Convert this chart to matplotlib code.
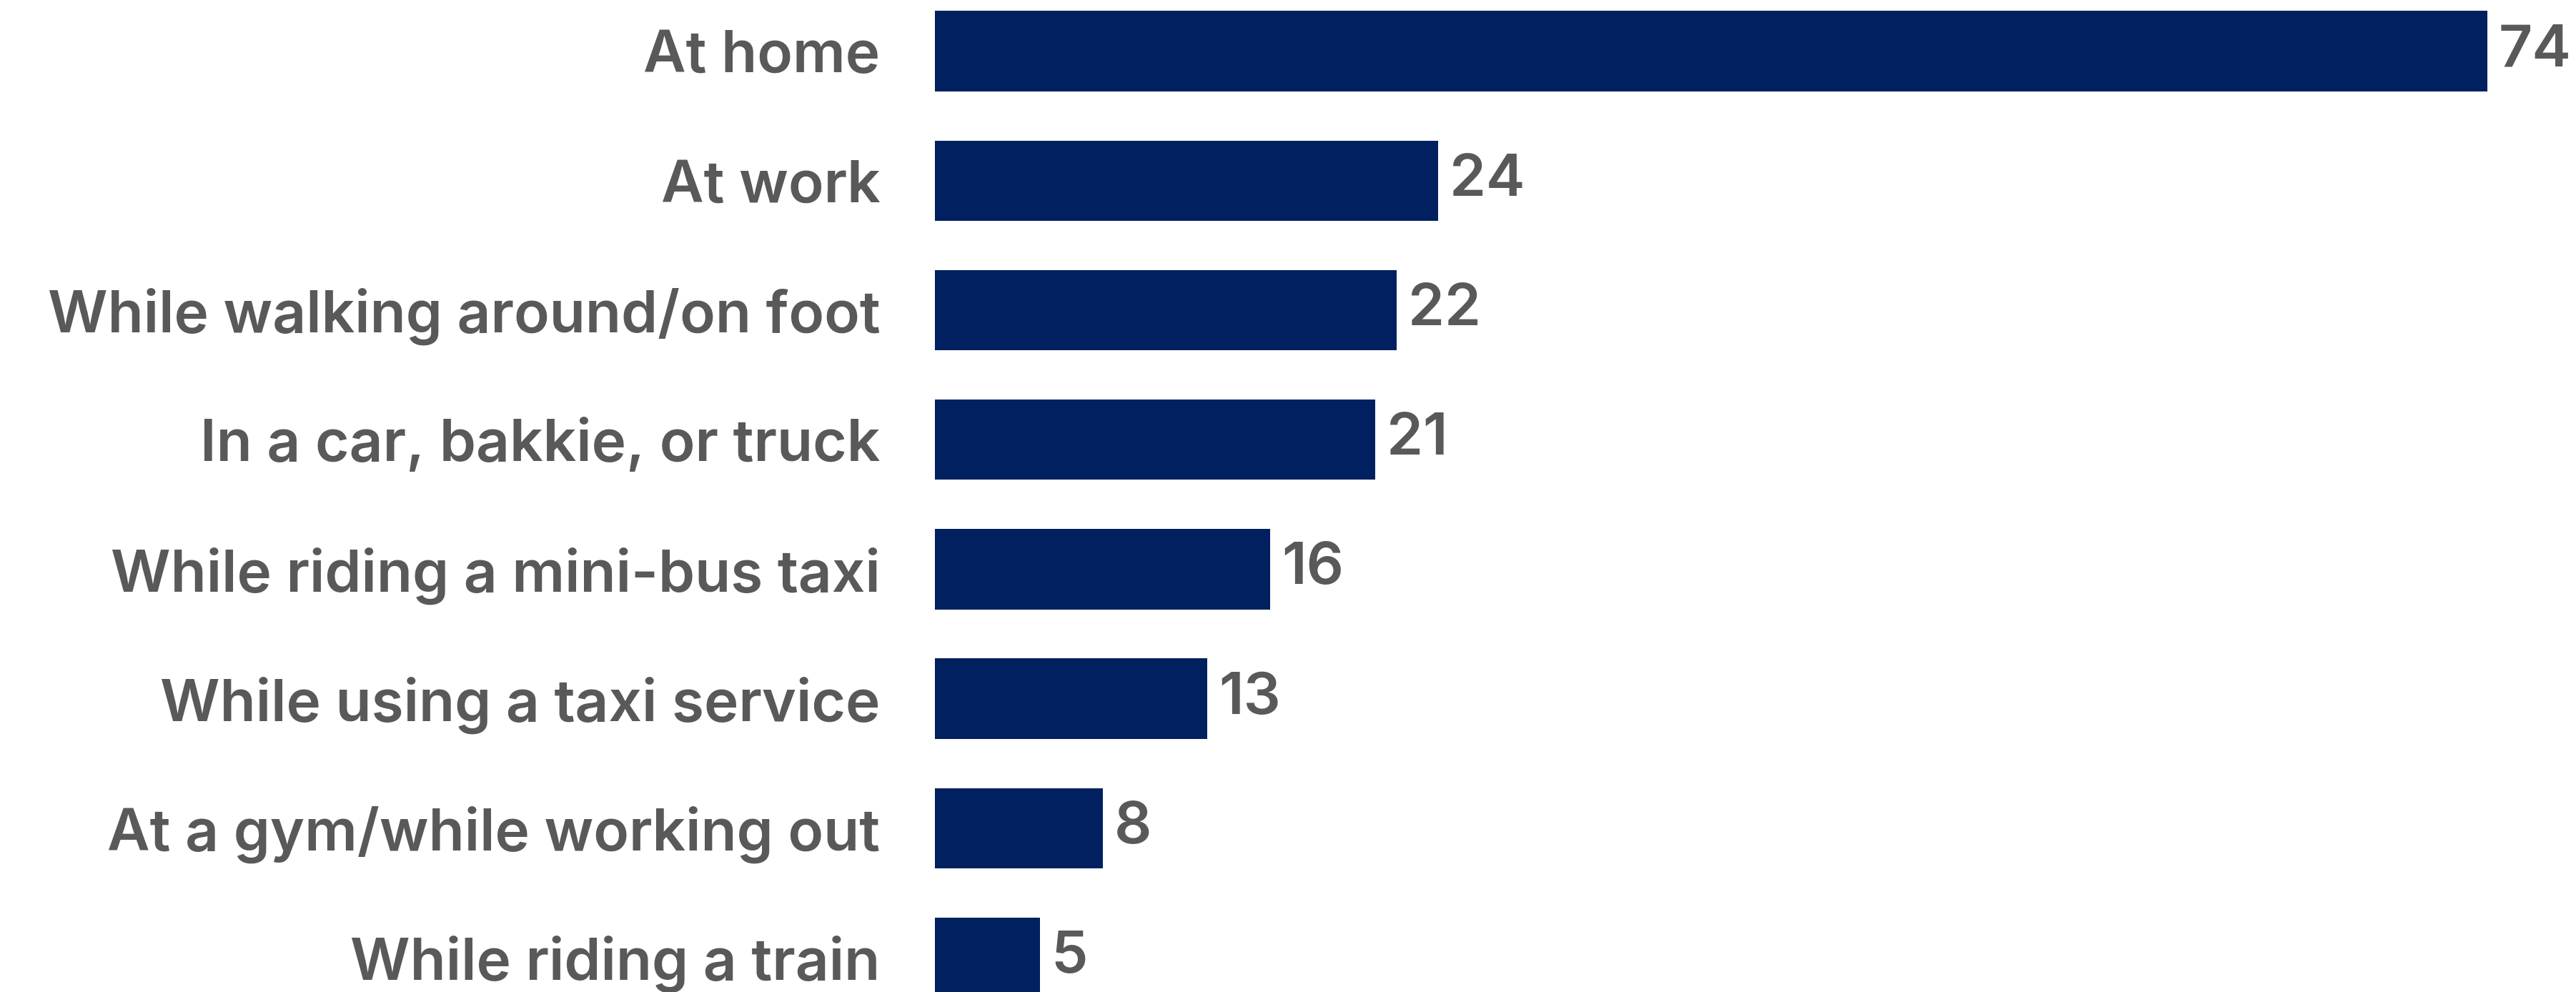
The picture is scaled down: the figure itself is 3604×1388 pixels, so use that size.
import matplotlib.pyplot as plt
import numpy as np

categories = ["At home", "At work", "While walking around/on foot", "In a car, bakkie, or truck",
              "While riding a mini-bus taxi", "While using a taxi service",
              "At a gym/while working out", "While riding a train"]
values = [74, 24, 22, 21, 16, 13, 8, 5]

bar_color = "#002060"
text_color = "#595959"
font = ["Inter", "DejaVu Sans"]

fig = plt.figure(figsize=(36.05, 13.88), dpi=100)
ax = fig.add_axes([0.3628, 0, 0.635, 1])

pos = np.arange(len(categories))
ax.barh(pos, values, height=0.62, color=bar_color)
ax.set_xlim(0, 78)
ax.set_ylim(7.265, -0.395)

for p, v in zip(pos, values):
    ax.text(v + 0.55, p, str(v), va="center", ha="left", fontsize=59,
            fontweight="semibold", color=text_color, family=font)

ax.set_yticks(pos)
ax.set_yticklabels(categories, fontsize=59, fontweight="semibold", color=text_color, family=font)
ax.tick_params(axis="y", length=0, pad=55)
ax.set_xticks([])
for s in ax.spines.values():
    s.set_visible(False)

fig.savefig("out.png", dpi=100)
